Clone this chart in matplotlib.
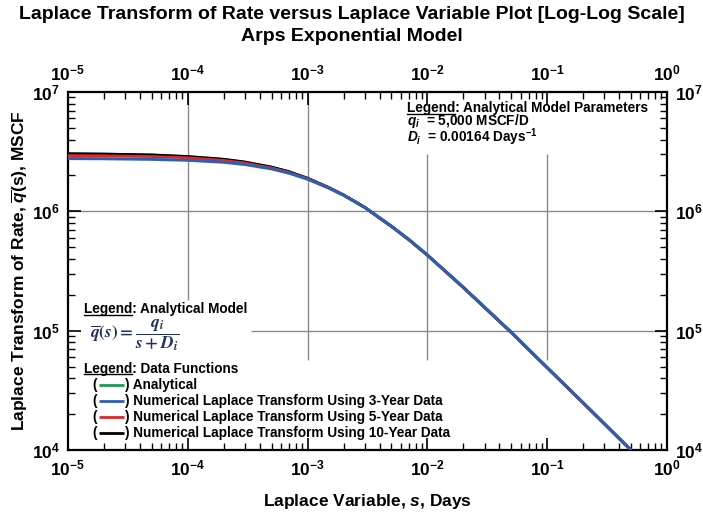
import math

import matplotlib
matplotlib.use("Agg")
from matplotlib import pyplot as plt
from matplotlib.ticker import FixedLocator, LogLocator, NullFormatter

plt.rcParams['font.family'] = ['Liberation Sans', 'DejaVu Sans']
plt.rcParams['font.weight'] = 'bold'
plt.rcParams['mathtext.fontset'] = 'custom'
plt.rcParams['mathtext.rm'] = 'Liberation Sans:bold'
plt.rcParams['mathtext.bf'] = 'Liberation Sans:bold'
plt.rcParams['mathtext.it'] = 'Liberation Sans:italic:bold'
plt.rcParams['mathtext.bfit'] = 'Liberation Sans:italic:bold'

# Laplace variable (1/days) and transformed rate (MSCF)
s_vals = [1e-5, 2e-5, 5e-5, 1e-4, 2e-4, 3e-4, 5e-4, 7e-4, 1e-3, 1.5e-3,
          2e-3, 3e-3, 5e-3, 7e-3, 1e-2, 2e-2, 5e-2, 1e-1, 2e-1, 0.49]
q_analytical = [3.03e6, 3.01e6, 2.96e6, 2.87e6, 2.72e6, 2.58e6, 2.34e6, 2.14e6,
                1.89e6, 1.58e6, 1.37e6, 1.08e6, 7.5e5, 5.8e5, 4.3e5, 2.3e5,
                9.7e4, 4.9e4, 2.48e4, 1.02e4]
q_3yr = [2.77e6, 2.76e6, 2.73e6, 2.68e6, 2.58e6, 2.47e6, 2.27e6, 2.09e6,
         1.86e6, 1.57e6, 1.365e6, 1.08e6, 7.5e5, 5.8e5, 4.3e5, 2.3e5,
         9.7e4, 4.9e4, 2.48e4, 1.02e4]
q_5yr = [2.93e6, 2.92e6, 2.88e6, 2.81e6, 2.67e6, 2.54e6, 2.31e6, 2.12e6,
         1.88e6, 1.58e6, 1.37e6, 1.08e6, 7.5e5, 5.8e5, 4.3e5, 2.3e5,
         9.7e4, 4.9e4, 2.48e4, 1.02e4]
q_10yr = [3.04e6, 3.02e6, 2.97e6, 2.88e6, 2.73e6, 2.59e6, 2.35e6, 2.15e6,
          1.895e6, 1.585e6, 1.37e6, 1.08e6, 7.5e5, 5.8e5, 4.3e5, 2.3e5,
          9.7e4, 4.9e4, 2.48e4, 1.02e4]

series_labels = ['Analytical',
                 'Numerical Laplace Transform Using 3-Year Data',
                 'Numerical Laplace Transform Using 5-Year Data',
                 'Numerical Laplace Transform Using 10-Year Data']
series_colors = ['#1d9a52', '#2f5fb5', '#e3262b', '#000000']

param_lines = ['Legend: Analytical Model Parameters',
               r'$\mathbfit{q_i}$  = 5,000 MSCF/D',
               r'$\mathbfit{D_i}$  = 0.00164 Days$^{\mathbf{-1}}$']

x_decades = [1e-5, 1e-4, 1e-3, 1e-2, 1e-1, 1e0]
y_decades = [1e4, 1e5, 1e6, 1e7]

GRID = '#8a8a8a'
TXT = 9.8


def pow10_label(v, pos=None):
    e = int(round(math.log10(v)))
    return r'$\mathbf{10^{%d}}$' % e


def underline_word(ax, x, y, word, size, va):
    # measure the word at the same anchor and draw a rule under it
    r = ax.figure.canvas.get_renderer()
    t = ax.text(x, y, word, transform=ax.transAxes, fontsize=size,
                fontweight='bold', va=va, ha='left')
    bb = t.get_window_extent(renderer=r)
    t.remove()
    inv = ax.transAxes.inverted()
    (x0, y0), (x1, _) = inv.transform([(bb.x0, bb.y0 + 1.6), (bb.x1, bb.y1)])
    ax.plot([x0, x1], [y0, y0], transform=ax.transAxes, color='black',
            lw=1.0, clip_on=False)
    return x1


def underlined_heading(ax, x, y, head, rest, size):
    underline_word(ax, x, y, head, size, 'baseline')
    ax.text(x, y, head + rest, transform=ax.transAxes, fontsize=size,
            fontweight='bold', va='baseline', ha='left')


def main():
    fig = plt.figure(figsize=(7.03, 5.17), dpi=100)
    ax = fig.add_axes([0.0967, 0.1296, 0.852, 0.6924])
    ax.set_xscale('log')
    ax.set_yscale('log')
    ax.set_xlim(1e-5, 1)
    ax.set_ylim(1e4, 1e7)

    # partial grid lines, kept clear of the text blocks
    ax.vlines(1e-4, 1.8e5, 1e7, color=GRID, lw=1.0, zorder=1)
    ax.vlines(1e-3, 5.7e4, 1e7, color=GRID, lw=1.0, zorder=1)
    ax.vlines([1e-2, 1e-1], 5.7e4, 3.0e6, color=GRID, lw=1.0, zorder=1)
    ax.hlines(1e6, 1e-5, 1, color=GRID, lw=1.0, zorder=1)
    ax.hlines(1e5, 3.35e-4, 1, color=GRID, lw=1.0, zorder=1)

    # curves: analytical underneath, 3-year on top
    ax.plot(s_vals, q_analytical, color=series_colors[0], lw=2.2, zorder=3)
    ax.plot(s_vals, q_10yr, color=series_colors[3], lw=2.0, zorder=4)
    ax.plot(s_vals, q_5yr, color=series_colors[2], lw=2.0, zorder=5)
    ax.plot(s_vals, q_3yr, color=series_colors[1], lw=2.2, zorder=6)

    # ticks and labels on all four sides
    for axis, decades in ((ax.xaxis, x_decades), (ax.yaxis, y_decades)):
        axis.set_major_locator(FixedLocator(decades))
        axis.set_minor_locator(LogLocator(base=10, subs=range(2, 10)))
        axis.set_minor_formatter(NullFormatter())
        axis.set_major_formatter(plt.FuncFormatter(pow10_label))
    ax.tick_params(which='both', direction='in', top=True, right=True,
                   labeltop=True, labelright=True, labelsize=12.5)
    ax.tick_params(which='major', length=9, width=1.2, pad=6)
    ax.tick_params(which='minor', length=5, width=1.0)
    for sp in ax.spines.values():
        sp.set_linewidth(1.6)

    ax.set_xlabel(r'Laplace Variable, $\mathbfit{s}$, Days', fontsize=12.5,
                  fontweight='bold', labelpad=10)
    ax.set_ylabel(r'Laplace Transform of Rate, $\mathbfit{\overline{q}}\mathbf{(s)}$, MSCF',
                  fontsize=12.5, fontweight='bold', labelpad=1)
    fig.text(0.5, 0.972, 'Laplace Transform of Rate versus Laplace Variable Plot [Log-Log Scale]',
             fontsize=14, fontweight='bold', ha='center', va='center')
    fig.text(0.5, 0.929, 'Arps Exponential Model',
             fontsize=14, fontweight='bold', ha='center', va='center')

    # model parameters block (upper right), one text with three lines
    px, py = 0.566, 0.974
    underline_word(ax, px, py, 'Legend', TXT, 'top')
    ax.text(px, py, '\n'.join(param_lines), transform=ax.transAxes,
            fontsize=TXT, fontweight='bold', va='top', ha='left',
            linespacing=0.76)

    # analytical model block (lower left)
    underlined_heading(ax, 0.027, 0.382, 'Legend', ': Analytical Model', TXT)
    ax.text(0.037, 0.321, r'$\overline{q}(s) = \dfrac{q_i}{s + D_i}$',
            transform=ax.transAxes, fontsize=12.5, color='#1f2f66',
            math_fontfamily='stix', va='center', ha='left')
    underlined_heading(ax, 0.027, 0.216, 'Legend', ': Data Functions', TXT)

    entry_y = [0.171, 0.126, 0.081, 0.036]
    for yy, lab, col in zip(entry_y, series_labels, series_colors):
        ax.text(0.04, yy, '(', transform=ax.transAxes, fontsize=TXT,
                fontweight='bold', va='baseline')
        ax.plot([0.052, 0.093], [yy + 0.011, yy + 0.011], transform=ax.transAxes,
                color=col, lw=2.0, solid_capstyle='butt')
        ax.text(0.095, yy, ') ' + lab, transform=ax.transAxes, fontsize=TXT,
                fontweight='bold', va='baseline')

    fig.savefig('out.png', dpi=100)


if __name__ == "__main__":
    main()
